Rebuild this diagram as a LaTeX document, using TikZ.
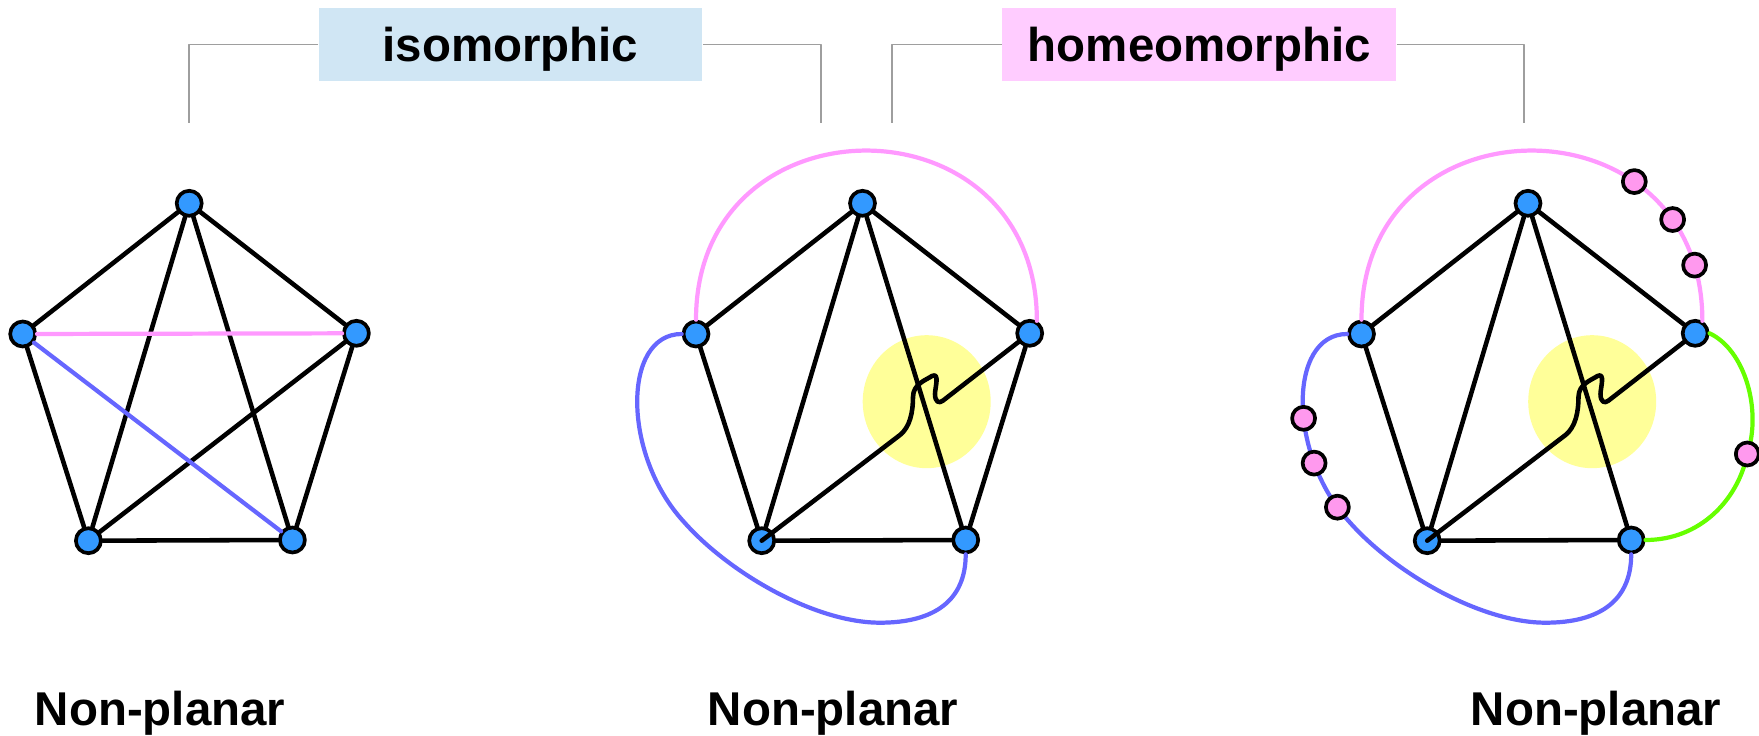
\documentclass[tikz,border=0pt]{standalone}
\usepackage{fontspec}
\setmainfont{Liberation Sans}
\usetikzlibrary{positioning, calc}
\definecolor{BoxBlue}{HTML}{D0E6F4}
\definecolor{BoxPink}{HTML}{FFCCFF}
\definecolor{EdgePink}{HTML}{FF99FF}
\definecolor{EdgeBlue}{HTML}{6666FF}
\definecolor{EdgeGreen}{HTML}{66FF00}
\definecolor{VtxBlue}{HTML}{3399FF}
\definecolor{SubPink}{HTML}{FF99EE}
\definecolor{HiYellow}{HTML}{FFFF99}

\begin{document}
\begin{tikzpicture}[
    x=0.02cm, y=-0.02cm, line cap=round, line join=round,
    vtx/.style={circle, draw=black, line width=2.1pt, fill=VtxBlue, minimum size=0.5cm, inner sep=0pt},
    subv/.style={circle, draw=black, line width=2.1pt, fill=SubPink, minimum size=0.46cm, inner sep=0pt},
    kedge/.style={draw=black, line width=2.6pt},
    pedge/.style={draw=EdgePink, line width=2.4pt},
    bedge/.style={draw=EdgeBlue, line width=2.4pt},
    gedge/.style={draw=EdgeGreen, line width=2.4pt},
    hdr/.style={font=\fontsize{27}{32}\selectfont\bfseries, text depth=0pt, inner sep=0pt, minimum height=1.458cm},
    bracket/.style={draw=black!38, line width=0.9pt, line cap=butt},
    lbl/.style={font=\fontsize{27}{32}\selectfont\bfseries, anchor=base},
  ]
  \useasboundingbox (0,0) rectangle (1759,736);
  % headers with brackets
  \node[hdr, fill=BoxBlue, minimum width=7.68cm] (iso) at (510.5,44.3) {isomorphic};
  \node[hdr, fill=BoxPink, minimum width=7.88cm] (homeo) at (1199.3,44.3) {homeomorphic};
  \coordinate (isoL) at (189,123.3);
  \coordinate (isoR) at (821,123.3);
  \coordinate (homL) at (892,123.3);
  \coordinate (homR) at (1524,123.3);
  \draw[bracket] (iso.west) -| (isoL);
  \draw[bracket] (iso.east) -| (isoR);
  \draw[bracket] (homeo.west) -| (homL);
  \draw[bracket] (homeo.east) -| (homR);
  % yellow spots behind the bent edge
  \fill[HiYellow] (926.7,401.7) ellipse [x radius=64, y radius=66.5];
  \fill[HiYellow] (1592.2,401.7) ellipse [x radius=64, y radius=66.5];
  % the five vertices of each graph
  \foreach \g/\sx in {1/-673.3, 2/0, 3/665.5}{
    \begin{scope}[shift={(\sx,0)}]
      \node[vtx] (t\g)  at (862.5,203.3) {};
      \node[vtx] (l\g)  at (696,334) {};
      \node[vtx] (r\g)  at (1029.7,333.3) {};
      \node[vtx] (bl\g) at (761.7,540.7) {};
      \node[vtx] (br\g) at (965.7,540) {};
    \end{scope}
    \draw[kedge] (t\g) -- (l\g) -- (bl\g) -- (br\g);
    \draw[kedge] (t\g) -- (r\g);
    \draw[kedge] (t\g) -- (bl\g);
    \draw[kedge] (t\g) -- (br\g);
  }
  % graph 1: K5
  \draw[kedge] (r1) -- (br1);
  \draw[kedge] (bl1) -- (r1);
  \draw[pedge] (l1) -- (r1);
  \draw[bedge] (l1) -- (br1);
  % graph 2
  \draw[kedge] (r2) -- (br2);
  \draw[kedge] (bl2.center) -- (900,435) .. controls (910,427) and (913,412) .. (913,397)
    .. controls (913,384) and (926,380) .. (932,376) .. controls (940,372) and (935,388) .. (935,394)
    .. controls (935,402) and (939,404) .. (943,400.6) -- (r2);
  \draw[pedge] (l2.north) .. controls (696,94) and (1037,94) .. (r2.60);
  \draw[bedge] (l2.west) .. controls (622,334) and (622,455) .. (684,522)
    .. controls (729,573) and (815,622.7) .. (880,622.7)
    .. controls (935,622.7) and (965.7,600) .. (br2.south);
  % graph 3: subdivided edges
  \begin{scope}[shift={(665.5,0)}]
    \draw[kedge] (bl3.center) -- (900,435) .. controls (910,427) and (913,412) .. (913,397)
      .. controls (913,384) and (926,380) .. (932,376) .. controls (940,372) and (935,388) .. (935,394)
      .. controls (935,402) and (939,404) .. (943,400.6) -- (r3);
    \draw[pedge] (l3.north) .. controls (696,94) and (1037,94) .. (r3.60)
      node[subv, pos=0.713] (s1) {} node[subv, pos=0.818] (s2) {} node[subv, pos=0.91] (s3) {};
    \draw[bedge] (l3.west) .. controls (622,334) and (622,455) .. (684,522)
      node[subv, pos=0.565] (s4) {} node[subv, pos=0.745] (s5) {} node[subv, pos=0.93] (s6) {}
      .. controls (729,573) and (815,622.7) .. (880,622.7)
      .. controls (935,622.7) and (965.7,600) .. (br3.south);
    \draw[gedge] (r3.east) .. controls (1079.5,350) and (1096.5,410) .. (1081.8,454) node[subv] (s7) {}
      .. controls (1072.5,500) and (1034.5,540) .. (br3.east);
  \end{scope}
  % captions
  \node[lbl] (np1) at (160,725) {Non-planar};
  \node[lbl] (np2) at (833,725) {Non-planar};
  \node[lbl] (np3) at (1596,725) {Non-planar};
\end{tikzpicture}
\end{document}
